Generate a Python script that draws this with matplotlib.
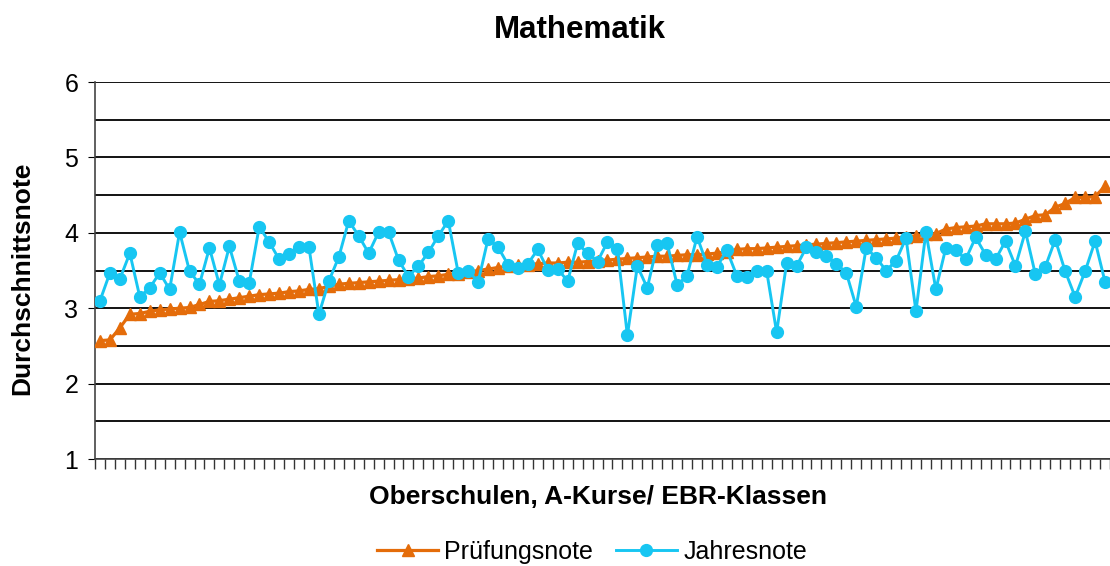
import numpy as np
import matplotlib.pyplot as plt

plt.rcParams['font.family'] = ['Liberation Sans', 'DejaVu Sans']

# Durchschnittsnoten je Schule (nach Prüfungsnote sortiert)
pruefungsnote = [
    2.57, 2.58, 2.74, 2.92, 2.93, 2.96, 2.98, 2.99, 3.00, 3.01,
    3.05, 3.09, 3.10, 3.12, 3.14, 3.16, 3.18, 3.19, 3.20, 3.22,
    3.23, 3.25, 3.26, 3.29, 3.32, 3.33, 3.34, 3.35, 3.36, 3.37,
    3.38, 3.39, 3.40, 3.42, 3.43, 3.45, 3.46, 3.48, 3.50, 3.52,
    3.54, 3.56, 3.57, 3.58, 3.59, 3.60, 3.60, 3.61, 3.61, 3.62,
    3.63, 3.64, 3.65, 3.66, 3.67, 3.68, 3.69, 3.69, 3.70, 3.71,
    3.71, 3.72, 3.73, 3.75, 3.78, 3.79, 3.79, 3.80, 3.81, 3.82,
    3.83, 3.84, 3.85, 3.86, 3.87, 3.88, 3.89, 3.90, 3.91, 3.92,
    3.93, 3.95, 3.96, 3.98, 3.99, 4.05, 4.07, 4.08, 4.09, 4.12,
    4.12, 4.12, 4.13, 4.18, 4.23, 4.24, 4.34, 4.39, 4.47, 4.47,
    4.48, 4.62,
]
jahresnote = [
    3.10, 3.47, 3.39, 3.73, 3.15, 3.27, 3.47, 3.25, 4.01, 3.49,
    3.32, 3.80, 3.31, 3.82, 3.36, 3.34, 4.08, 3.88, 3.65, 3.72,
    3.81, 3.81, 2.92, 3.36, 3.68, 4.16, 3.96, 3.73, 4.01, 4.01,
    3.64, 3.42, 3.56, 3.74, 3.96, 4.16, 3.47, 3.50, 3.35, 3.92,
    3.81, 3.58, 3.54, 3.59, 3.78, 3.51, 3.52, 3.36, 3.86, 3.73,
    3.62, 3.88, 3.78, 2.64, 3.56, 3.27, 3.84, 3.86, 3.31, 3.43,
    3.95, 3.58, 3.55, 3.77, 3.43, 3.41, 3.49, 3.49, 2.68, 3.60,
    3.56, 3.81, 3.75, 3.69, 3.59, 3.47, 3.02, 3.80, 3.67, 3.50,
    3.63, 3.93, 2.96, 4.01, 3.25, 3.80, 3.77, 3.65, 3.94, 3.71,
    3.65, 3.89, 3.56, 4.02, 3.45, 3.55, 3.91, 3.49, 3.15, 3.49,
    3.89, 3.35,
]

orange = '#E46C0A'
blue = '#17C6F2'

fig = plt.figure(figsize=(11.1, 5.66), dpi=100)
ax = fig.add_axes([0.0856, 0.189, 0.9144, 0.666])

x = np.arange(len(pruefungsnote))
ax.plot(x, pruefungsnote, color=orange, lw=2.3, marker='^', ms=8,
        label='Prüfungsnote', zorder=3)
ax.plot(x, jahresnote, color=blue, lw=2.1, marker='o', ms=8.5,
        label='Jahresnote', zorder=4)

ax.set_ylim(1, 6)
ax.set_xlim(-0.5, 101.3)
ax.set_yticks(np.arange(1, 7, 1))
ax.set_yticks(np.arange(1, 6.5, 0.5), minor=True)
ax.grid(True, which='both', axis='y', color='black', lw=1.3)
ax.set_axisbelow(True)

# Kategorie-Trennstriche unten
ax.set_xticks(np.arange(-0.5, len(x) + 0.5, 1))
ax.set_xticklabels([])
ax.tick_params(axis='x', direction='out', length=7, width=1, color='#333333')
ax.tick_params(axis='y', which='major', direction='out', length=5,
               labelsize=18, pad=7)
ax.tick_params(axis='y', which='minor', length=0)

for s in ['top', 'right']:
    ax.spines[s].set_visible(False)
for s in ['left', 'bottom']:
    ax.spines[s].set_color('#444444')
    ax.spines[s].set_linewidth(1.2)

fig.text(22 / 1110, 1 - 278 / 566, 'Durchschnittsnote', rotation=90,
         ha='center', va='center', fontsize=19, fontweight='bold')
fig.text(598 / 1110, 1 - 497 / 566, 'Oberschulen, A-Kurse/ EBR-Klassen',
         ha='center', va='center', fontsize=19, fontweight='bold')
fig.text(580 / 1110, 1 - 30 / 566, 'Mathematik', ha='center', va='center',
         fontsize=22.5, fontweight='bold')

fig.legend(loc='center', bbox_to_anchor=(592 / 1110, 1 - 552 / 566), ncol=2,
           frameon=False, fontsize=18, handlelength=2.45, handletextpad=0.25,
           columnspacing=0.9)

fig.savefig('out.png', dpi=100)
